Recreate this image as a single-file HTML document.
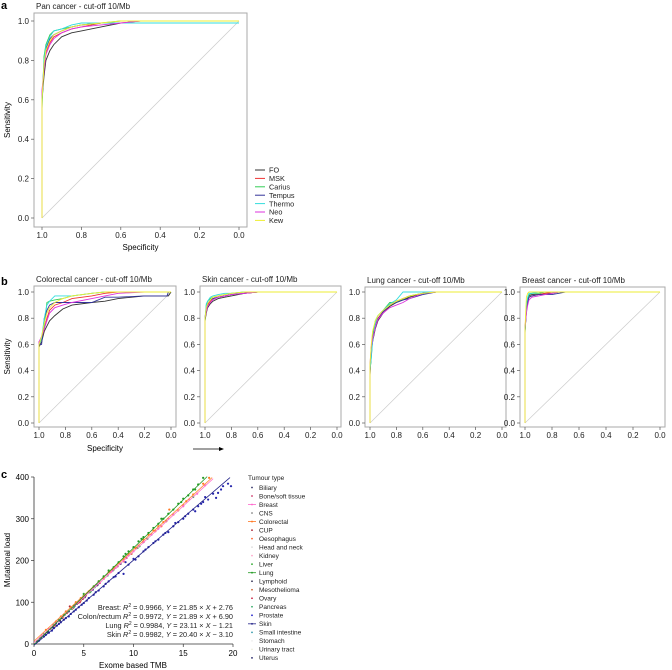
<!DOCTYPE html>
<html><head><meta charset="utf-8">
<style>
html,body{margin:0;padding:0;background:#fff;}
svg{display:block;font-family:"Liberation Sans",Arial,sans-serif;}
</style></head>
<body>
<svg id="fig" width="672" height="670" viewBox="0 0 672 670" xmlns="http://www.w3.org/2000/svg"></svg>
<script>
// ROC data
const rocSeries = ['FO','MSK','Carius','Tempus','Thermo','Neo','Kew'];
const rocColors = ['#333333','#ee3333','#33cc55','#333399','#33dddd','#dd33dd','#eeee33'];
const panSpec = [1,1,0.99,0.98,0.96,0.94,0.9,0.85,0.8,0.7,0.6,0.5,0.3,0];
const panFO     = [0,0.6,0.72,0.8,0.85,0.88,0.92,0.94,0.95,0.97,0.99,0.99,0.99,0.99];
const panMSK    = [0,0.62,0.76,0.84,0.89,0.92,0.94,0.96,0.97,0.99,0.99,1,1,1];
const panCarius = [0,0.55,0.82,0.88,0.93,0.95,0.96,0.97,0.98,0.99,1,1,1,1];
const panTempus = [0,0.6,0.78,0.86,0.91,0.93,0.95,0.97,0.98,0.99,0.99,0.99,0.99,0.99];
const panThermo = [0,0.6,0.8,0.87,0.92,0.95,0.96,0.98,0.99,0.99,0.99,0.99,0.99,0.99];
const panNeo    = [0,0.65,0.75,0.83,0.88,0.91,0.94,0.96,0.97,0.98,0.99,1,1,1];
const panKew    = [0,0.6,0.78,0.85,0.9,0.93,0.95,0.97,0.98,0.99,1,1,1,1];

const crcSpec = [1,1,0.98,0.96,0.94,0.92,0.88,0.82,0.75,0.6,0.5,0.4,0.2,0.03,0.02,0];
const crcFO     = [0,0.58,0.62,0.7,0.74,0.78,0.82,0.87,0.9,0.92,0.93,0.95,0.97,0.97,0.97,1];
const crcMSK    = [0,0.62,0.65,0.72,0.8,0.86,0.9,0.92,0.95,0.97,0.99,1,1,1,1,1];
const crcCarius = [0,0.6,0.64,0.74,0.92,0.93,0.94,0.95,0.97,0.99,1,1,1,1,1,1];
const crcTempus = [0,0.6,0.6,0.8,0.86,0.9,0.92,0.92,0.92,0.92,0.96,0.96,0.97,0.97,1,1];
const crcThermo = [0,0.6,0.65,0.8,0.9,0.93,0.97,0.97,0.97,0.99,1,1,1,1,1,1];
const crcNeo    = [0,0.62,0.66,0.72,0.78,0.84,0.88,0.9,0.92,0.95,0.97,0.99,1,1,1,1];
const crcKew    = [0,0.6,0.66,0.76,0.84,0.88,0.92,0.95,0.97,0.99,1,1,1,1,1,1];

const skinSpec = [1,1,0.99,0.98,0.96,0.94,0.9,0.85,0.8,0.7,0.6,0.4,0];
const skinFO     = [0,0.78,0.84,0.88,0.91,0.93,0.95,0.96,0.97,0.99,1,1,1];
const skinMSK    = [0,0.8,0.87,0.9,0.93,0.95,0.96,0.97,0.98,0.99,1,1,1];
const skinCarius = [0,0.77,0.9,0.93,0.95,0.96,0.97,0.98,0.99,1,1,1,1];
const skinTempus = [0,0.8,0.87,0.91,0.94,0.95,0.96,0.97,0.98,0.99,1,1,1];
const skinThermo = [0,0.8,0.91,0.93,0.96,0.97,0.98,0.99,0.99,1,1,1,1];
const skinNeo    = [0,0.8,0.85,0.89,0.92,0.94,0.96,0.97,0.98,0.99,1,1,1];
const skinKew    = [0,0.8,0.88,0.91,0.94,0.96,0.97,0.98,0.99,1,1,1,1];

const lungSpec = [1,1,0.99,0.98,0.96,0.94,0.9,0.85,0.8,0.75,0.7,0.6,0.5,0.3,0];
const lungFO     = [0,0.36,0.55,0.62,0.72,0.78,0.84,0.89,0.92,0.94,0.96,0.99,1,1,1];
const lungMSK    = [0,0.4,0.58,0.64,0.74,0.8,0.85,0.9,0.93,0.95,0.97,0.99,1,1,1];
const lungCarius = [0,0.4,0.5,0.66,0.78,0.82,0.86,0.92,0.92,0.95,0.97,0.99,1,1,1];
const lungTempus = [0,0.4,0.52,0.64,0.74,0.79,0.85,0.9,0.92,0.94,0.95,0.98,1,1,1];
const lungThermo = [0,0.4,0.5,0.62,0.76,0.82,0.86,0.91,0.94,1,1,1,1,1,1];
const lungNeo    = [0,0.45,0.58,0.64,0.73,0.79,0.84,0.88,0.9,0.92,0.95,0.99,1,1,1];
const lungKew    = [0,0.45,0.6,0.7,0.78,0.82,0.86,0.9,0.93,0.95,0.97,0.99,1,1,1];

const brSpec = [1,1,0.99,0.98,0.97,0.95,0.9,0.85,0.8,0.75,0.7,0.5,0];
const brFO     = [0,0.7,0.85,0.93,0.97,0.98,0.98,0.99,0.99,1,1,1,1];
const brMSK    = [0,0.72,0.88,0.94,0.96,0.97,0.98,0.99,1,1,1,1,1];
const brCarius = [0,0.68,0.9,0.95,0.98,0.99,0.99,1,1,1,1,1,1];
const brTempus = [0,0.7,0.86,0.92,0.96,0.97,0.98,0.98,0.98,0.99,1,1,1];
const brThermo = [0,0.7,0.9,0.96,0.99,0.99,1,1,1,1,1,1,1];
const brNeo    = [0,0.72,0.84,0.9,0.94,0.96,0.97,0.98,0.99,1,1,1,1];
const brKew    = [0,0.72,0.96,0.99,1,1,1,1,1,1,1,1,1];

const yTicksRoc = ['0.0','0.2','0.4','0.6','0.8','1.0'];
const xTicksRoc = ['1.0','0.8','0.6','0.4','0.2','0.0'];

// Scatter data (panel c)
const tumourTypes = ['Biliary','Bone/soft tissue','Breast','CNS','Colorectal','CUP','Oesophagus','Head and neck','Kidney','Liver','Lung','Lymphoid','Mesothelioma','Ovary','Pancreas','Prostate','Skin','Small intestine','Stomach','Urinary tract','Uterus'];
const tumourColors = ['#333366','#cc3366','#ff66cc','#888888','#ff7722','#aa2233','#ff6633','#dddddd','#ffaacc','#33aa33','#229922','#333355','#cc6633','#cc2244','#33aa66','#2222cc','#222288','#3399aa','#eeeeee','#eeeedd','#222266'];
const tumourIsLine = [false,false,true,false,true,false,false,false,false,false,true,false,false,false,false,false,true,false,false,false,false];

const skinX = [0.5,1,1.5,2,2.5,3,3.5,4,4.5,5,6,6.5,7,7.5,8,8.5,9,9.5,10,10.5,11,11.5,12,12.5,13,13.5,14,14.5,15,15.5,16,16.2,16.5,17,17.5,18,18.3,18.5,19,19.5,19.8,9.2,5.5,1.2,1.8,2.3,2.7,3.2,3.7,4.2,4.8,5.3,6.2,7.2,8.2,10.2,11.2,12.2,13.2,14.2,15.2,16.8,17.2,18.8];
const skinY = [8,18,27,38,48,58,66,78,88,98,118,128,138,150,160,170,168,190,204,210,222,232,242,250,262,268,282,292,300,312,322,318,330,340,346,360,350,362,378,384,378,196,110,22,32,44,52,62,72,82,94,104,124,144,162,202,226,246,266,290,306,336,352,370];
const lungX = [1,2,2.5,3,4,5,6,7,8,8.5,9,9.5,10,10.5,11,11.5,12,12.5,13,13.5,14,14.5,15,15.5,16,16.5,17,6.5,7.5,9.2,10.8,12.8,14.8,16.2];
const lungY = [24,46,58,70,92,116,138,162,184,196,210,222,232,246,256,266,278,288,300,312,322,336,348,356,370,382,398,150,176,216,252,300,340,370];
const crcX = [1.2,2.2,3.2,4.2,5.5,6.5,7.5,8.5,9.5,10.2,11,12,13,13.6,14.5,15.3,16,17,17.6,2.7,3.7,4.7,6,7,8,9,11.5,12.5];
const crcY = [34,54,78,100,126,150,172,194,216,230,250,272,292,322,320,342,358,384,398,66,88,110,136,158,180,204,262,282];
const breastX = [0.8,1.5,2.4,3.3,4.1,5,5.8,6.6,7.4,8.2,9,10,11,12.5,14,15,16.4,17.2,1.9,2.9,3.8,4.5,5.4,6.2,7,7.8,8.6,9.5,10.5,11.8,13.5,15.6];
const breastY = [20,36,54,76,94,112,130,148,166,182,200,222,246,276,310,330,360,380,46,66,86,102,122,140,156,174,192,212,236,262,300,346];
const otherX = [0.6,1.1,1.7,2.1,2.6,3.0,3.4,3.8,4.3,4.7,5.2,5.7,6.1,6.8,7.2,7.9,8.7,9.3,10.6,11.4,12.2,13.3,3.6,4.6,2.8,6.3,1.4,5.0,7.7,0.3,0.9,1.3,1.6,2.0,2.4,2.9,3.1,3.5,3.9,4.0,4.4,4.9,5.1,5.6,5.9,6.4,6.6,7.0,7.4,8.0,8.4,9.0,9.8,10.4,11.0,11.8,12.8,14.0,15.0,16.0,2.2,2.6,3.3,1.9,4.1,0.7];
const otherY = [14,24,38,46,58,66,76,84,96,104,116,126,136,150,160,176,192,206,234,252,270,294,90,100,62,140,30,120,172,7,20,28,36,44,54,64,70,78,86,88,98,108,112,124,130,142,146,156,164,178,186,198,216,230,244,262,282,310,332,352,50,56,74,40,92,16];
const otherTypeIdx = [0,1,3,5,6,7,8,9,11,12,13,14,17,18,19,20,0,1,9,14,6,12,5,13,20,11,0,9,6,20,11,0,1,13,9,6,3,20,12,14,1,5,11,9,20,0,13,6,14,9,1,6,12,9,13,14,6,9,6,14,20,11,13,0,20,11];
const fitNames = ['Breast','Colon/rectum','Lung','Skin'];
const fitSlope = [21.85,21.89,23.11,20.40];
const fitIntercept = [2.76,6.90,-1.21,-3.10];
const fitXmax = [18,17.9,17.4,19.7];
const fitColors = ['#ff77cc','#ff8833','#229922','#222288'];
const fitR2 = ['0.9966','0.9972','0.9984','0.9982'];
const scXTicks = [0,5,10,15,20];
const scYTicks = [0,100,200,300,400];

const NS='http://www.w3.org/2000/svg';
const svg=document.getElementById('fig');
function el(tag,attrs,parent){const e=document.createElementNS(NS,tag);for(const k in attrs)e.setAttribute(k,attrs[k]);(parent||svg).appendChild(e);return e;}
function txt(s,attrs,parent){const e=el('text',attrs,parent);e.textContent=s;return e;}

txt('a',{x:1,y:9,'font-size':11,'font-weight':'bold'});
txt('b',{x:1,y:285,'font-size':11,'font-weight':'bold'});
txt('c',{x:1,y:478,'font-size':11,'font-weight':'bold'});

function rocPanel(name,title,box,x1,x0,y0,y1,spec,series,showYTitle,showXTitle){
  const g=el('g',{});
  
  
  const X=v=>x1+(1-v)*(x0-x1);
  const Y=v=>y0-v*(y0-y1);
  const frame=el('rect',{x:box[0],y:box[1],width:box[2]-box[0],height:box[3]-box[1],fill:'none',stroke:'#aaa','stroke-width':1},g);
  
  const diag=el('line',{x1:X(1),y1:Y(0),x2:X(0),y2:Y(1),stroke:'#ccc','stroke-width':0.7},g);
  
  const t=txt(title,{x:box[0]+2,y:box[1]-4,'font-size':8,fill:'#222'},g);
  
  for(let i=0;i<yTicksRoc.length;i++){
    const v=i/5;
    el('line',{x1:box[0]-3,x2:box[0],y1:Y(v),y2:Y(v),stroke:'#555','stroke-width':0.7},g);
    const l=txt(yTicksRoc[i],{x:box[0]-5,y:Y(v)+3,'font-size':8,'text-anchor':'end',fill:'#222'},g);
    
  }
  for(let i=0;i<xTicksRoc.length;i++){
    const v=1-i/5;
    el('line',{x1:X(v),x2:X(v),y1:box[3],y2:box[3]+3,stroke:'#555','stroke-width':0.7},g);
    const l=txt(xTicksRoc[i],{x:X(v),y:box[3]+11,'font-size':8,'text-anchor':'middle',fill:'#222'},g);
    
  }
  series.forEach((s,k)=>{
    const d=s.map((v,i)=>(i?'L':'M')+X(spec[i]).toFixed(1)+','+Y(v).toFixed(1)).join('');
    const p=el('path',{d:d,fill:'none',stroke:rocColors[k],'stroke-width':0.9},g);
    
  });
  if(showYTitle){
    const yt=txt('Sensitivity',{x:0,y:0,'font-size':8,'text-anchor':'middle',transform:`translate(10,${(box[1]+box[3])/2}) rotate(-90)`},g);
    
  }
  if(showXTitle){
    const xt=txt('Specificity',{x:(box[0]+box[2])/2,y:showXTitle,'font-size':8,'text-anchor':'middle'},g);
    
  }
}

rocPanel('pan-cancer-roc','Pan cancer - cut-off 10/Mb',[34,13,247,227],42,239,218,21,panSpec,[panFO,panMSK,panCarius,panTempus,panThermo,panNeo,panKew],true,250);
rocPanel('colorectal-roc','Colorectal cancer - cut-off 10/Mb',[34,286,176,427],39,171,423,292,crcSpec,[crcFO,crcMSK,crcCarius,crcTempus,crcThermo,crcNeo,crcKew],true,451);
rocPanel('skin-roc','Skin cancer - cut-off 10/Mb',[200,286,341,427],205,337,423,292,skinSpec,[skinFO,skinMSK,skinCarius,skinTempus,skinThermo,skinNeo,skinKew],false,0);
rocPanel('lung-roc','Lung cancer - cut-off 10/Mb',[365,287,506,427],370,502,423,292,lungSpec,[lungFO,lungMSK,lungCarius,lungTempus,lungThermo,lungNeo,lungKew],false,0);
rocPanel('breast-roc','Breast cancer -  cut-off 10/Mb',[520,287,665,427],525,660,423,292,brSpec,[brFO,brMSK,brCarius,brTempus,brThermo,brNeo,brKew],false,0);

const arr=el('g',{});


el('line',{x1:193,y1:449,x2:223,y2:449,stroke:'#000','stroke-width':0.8},arr);
el('path',{d:'M224,449 L219,447 L219,451 Z',fill:'#000'},arr);

const lg=el('g',{});


rocSeries.forEach((n,i)=>{
  const y=170+i*8.4;
  const ln=el('line',{x1:255,x2:265,y1:y,y2:y,stroke:rocColors[i],'stroke-width':1},lg);
  
  const t=txt(n,{x:269,y:y+2.7,'font-size':7.3,fill:'#222'},lg);
  
});

const sc=el('g',{});


const CX=v=>34+v*(199/20);
const CY=v=>644-v*(167/400);
const ax=el('path',{d:`M34,${CY(400)} L34,${CY(0)} L${CX(20)},${CY(0)}`,fill:'none',stroke:'#333','stroke-width':0.8},sc);

scXTicks.forEach(v=>{
  el('line',{x1:CX(v),x2:CX(v),y1:644,y2:647,stroke:'#333','stroke-width':0.7},sc);
  const t=txt(String(v),{x:CX(v),y:656,'font-size':8,'text-anchor':'middle'},sc);
  
});
scYTicks.forEach(v=>{
  el('line',{x1:31,x2:34,y1:CY(v),y2:CY(v),stroke:'#333','stroke-width':0.7},sc);
  const t=txt(String(v),{x:29,y:CY(v)+3,'font-size':8,'text-anchor':'end'},sc);
  
});
const xt=txt('Exome based TMB',{x:133,y:668,'font-size':8,'text-anchor':'middle'},sc);

const yt=txt('Mutational load',{x:0,y:0,'font-size':8,'text-anchor':'middle',transform:'translate(10,560) rotate(-90)'},sc);


function dots(xs,ys,colorFn,name){
  xs.forEach((x,i)=>{
    const c=el('circle',{cx:CX(x),cy:CY(ys[i]),r:1.1,fill:colorFn(i)},sc);
    
  });
}
dots(otherX,otherY,i=>tumourColors[otherTypeIdx[i]],'point-other');
dots(breastX,breastY,()=>'#ff66cc','point-breast');
dots(crcX,crcY,()=>'#ff7722','point-colorectal');
dots(lungX,lungY,()=>'#229922','point-lung');
dots(skinX,skinY,()=>'#2222aa','point-skin');

fitNames.forEach((n,i)=>{
  const l=el('line',{x1:CX(0),y1:CY(fitIntercept[i]),x2:CX(fitXmax[i]),y2:CY(fitSlope[i]*fitXmax[i]+fitIntercept[i]),stroke:fitColors[i],'stroke-width':0.8},sc);
  
  const sign=fitIntercept[i]<0?'−':'+';
  const t=el('text',{x:233,y:610+i*9,'font-size':7.3,'text-anchor':'end',fill:'#222'},sc);
  
  t.innerHTML=`${n}${n==='Breast'?':':''} <tspan font-style="italic">R</tspan><tspan font-size="5" dy="-3">2</tspan><tspan dy="3"> = ${fitR2[i]}, </tspan><tspan font-style="italic">Y</tspan> = ${fitSlope[i].toFixed(2)} × <tspan font-style="italic">X</tspan> ${sign} ${Math.abs(fitIntercept[i]).toFixed(2)}`;
});

const tl=el('g',{});


const th=txt('Tumour type',{x:248,y:480,'font-size':6.5,fill:'#222'},tl);

tumourTypes.forEach((n,i)=>{
  const y=487.5+i*8.52;
  if(tumourIsLine[i]){
    el('line',{x1:248,x2:256,y1:y,y2:y,stroke:tumourColors[i],'stroke-width':0.8},tl);
  }
  const d=el('circle',{cx:252,cy:y,r:0.9,fill:tumourColors[i]},tl);
  
  const t=txt(n,{x:259,y:y+2.3,'font-size':6.5,fill:'#222'},tl);
  
});
</script>
</body></html>
